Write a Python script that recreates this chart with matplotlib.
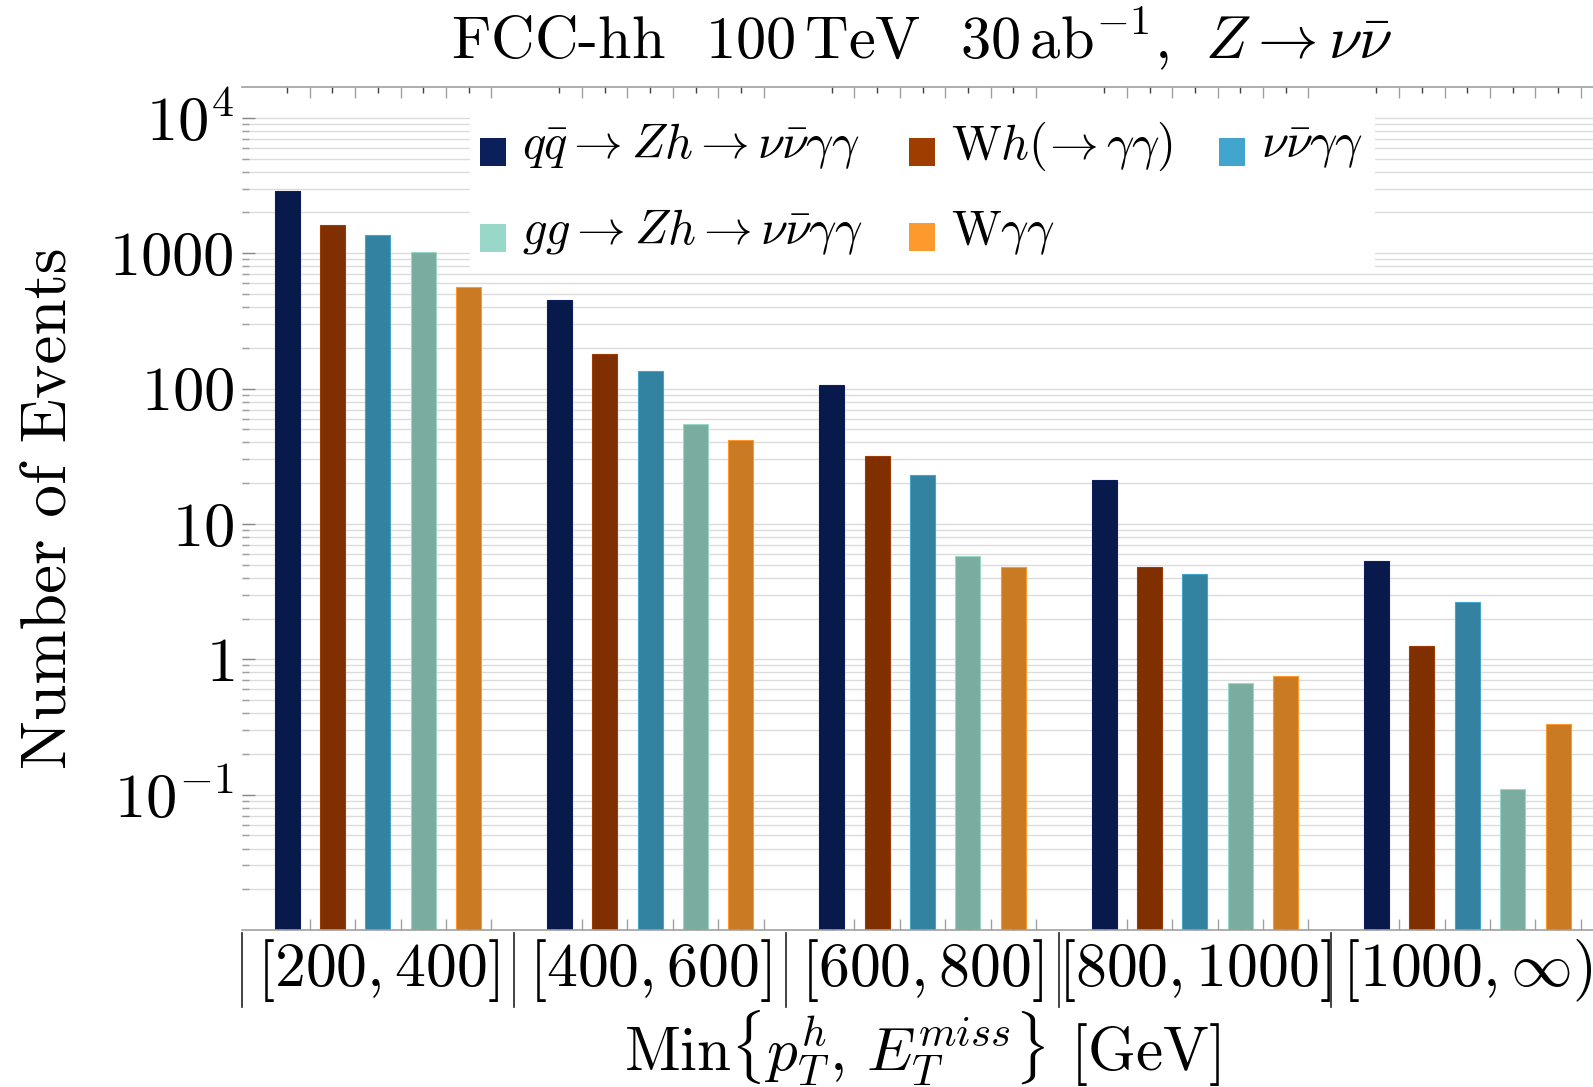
import matplotlib
matplotlib.use("Agg")
import matplotlib.pyplot as plt
import numpy as np
from matplotlib.patches import Patch, Rectangle
from matplotlib.legend_handler import HandlerPatch
from matplotlib.ticker import LogLocator, NullFormatter

plt.rcParams['font.family'] = 'cmr10'
plt.rcParams['mathtext.fontset'] = 'cm'
plt.rcParams['axes.unicode_minus'] = False

# pT bins (events for 30 ab^-1 at 100 TeV)
bins = [r'$[200,400]$', r'$[400,600]$', r'$[600,800]$',
        r'$[800,1000]$', r'$[1000,\infty)$']

labels = [r'$q\bar{q}\rightarrow Zh\rightarrow \nu\bar{\nu}\gamma\gamma$',
          r'$\mathrm{W}h(\!\rightarrow\gamma\gamma)$',
          r'$\nu\bar{\nu}\gamma\gamma$',
          r'$gg\rightarrow Zh\rightarrow \nu\bar{\nu}\gamma\gamma$',
          r'$\mathrm{W}\gamma\gamma$']

qq_zh = [2890, 450, 106, 21.0, 5.3]
wh_aa = [1610, 180, 31.5, 4.8, 1.26]
nunu_aa = [1370, 134, 22.8, 4.25, 2.65]
gg_zh = [1020, 55, 5.8, 0.67, 0.11]
w_aa = [560, 42, 4.8, 0.75, 0.33]

series = [qq_zh, wh_aa, nunu_aa, gg_zh, w_aa]
bar_colors = ['#081a4b', '#7f2f00', '#3382a2', '#7aada0', '#c97a22']
key_colors = ['#0a1f5c', '#9f3c00', '#42a5cd', '#99d8c8', '#fc9a2d']

n_groups = len(bins)
stride = len(series) + 1  # one empty slot between groups

fig = plt.figure(figsize=(15.93, 10.87), dpi=100)
ax = fig.add_axes([0.1517, 0.1444, 0.8483, 0.7753])

slots = []
for i, (vals, c, kc) in enumerate(zip(series, bar_colors, key_colors)):
    x = np.arange(n_groups) * stride + i
    slots.extend(x)
    ax.bar(x, vals, width=0.55, color=c, edgecolor=kc, linewidth=0.8, zorder=2)
slots = np.sort(np.array(slots))

ax.set_yscale('log')
ax.set_ylim(0.01, 16800)
ax.set_xlim(-1, 28.77)

ax.set_yticks([0.1, 1, 10, 100, 1000, 1e4],
              [r'$10^{-1}$', r'$1$', r'$10$', r'$100$', r'$1000$', r'$10^{4}$'])
ax.yaxis.set_minor_locator(LogLocator(base=10, subs=np.arange(2, 10), numticks=30))
ax.yaxis.set_minor_formatter(NullFormatter())
ax.grid(True, axis='y', which='both', color='#dcdcdc', linewidth=1.0)
ax.set_axisbelow(True)

ax.tick_params(axis='y', which='major', direction='in', left=True, right=False,
               length=9.5, width=1, color='#8a8a8a', labelsize=45, pad=5.5)
ax.tick_params(axis='y', which='minor', direction='in', left=True, right=False,
               length=5, width=1, color='#a0a0a0')

ax.set_xticks(slots + 0.5)
ax.set_xticks(slots, minor=True)
ax.tick_params(axis='x', which='major', direction='in', top=True, bottom=True,
               length=8, width=1, color='#a0a0a0', labelbottom=False)
ax.tick_params(axis='x', which='minor', direction='in', top=True, bottom=True,
               length=4, width=1, color='#404040')

for side in ['left', 'right']:
    ax.spines[side].set_visible(False)
for side in ['top', 'bottom']:
    ax.spines[side].set_color('#a0a0a0')
    ax.spines[side].set_linewidth(1.2)

# bin labels under each group, with separators
trans = ax.get_xaxis_transform()
centers = np.arange(n_groups) * stride + 2
for cx, lab in zip(centers, bins):
    ax.text(cx, -0.0665, lab, transform=trans, ha='center', va='baseline',
            fontsize=44.5)
for sx in np.arange(n_groups) * stride - 1:
    ax.plot([sx, sx], [-0.0036, -0.0914], transform=trans, color='#222222',
            lw=1.2, clip_on=False)

# legend on a white panel
ax.add_patch(Rectangle((0.1689, 0.782), 0.6698, 0.203, transform=ax.transAxes,
                       facecolor='white', edgecolor='none', zorder=1))


def low_swatch(legend, orig_handle, xdescent, ydescent, width, height, fontsize):
    return Rectangle((-xdescent, -ydescent - 0.22 * fontsize), width, height)


order = [0, 3, 1, 4, 2]
handles = [Patch(facecolor=key_colors[k], edgecolor='none') for k in order]
leg = ax.legend(handles, [labels[k] for k in order], ncol=3,
                loc='upper left', bbox_to_anchor=(0.1764, 0.962),
                frameon=False, fontsize=35, handlelength=0.53,
                handleheight=0.53, handletextpad=0.34, columnspacing=0.95,
                labelspacing=0.74, borderpad=0, borderaxespad=0,
                handler_map={Patch: HandlerPatch(patch_func=low_swatch)})
leg.set_zorder(5)

fig.text(0.5788, 0.9464,
         r'FCC-hh  100$\,$TeV  30$\,$ab$^{-1}$, $\;Z\rightarrow\nu\bar{\nu}$',
         ha='center', va='baseline', fontsize=43.5)
fig.text(0.032, 0.5327, 'Number of Events', rotation=90,
         ha='center', va='center', fontsize=47)
fig.text(0.5785, 0.0147, r'Min$\{p_T^h,\,E_T^{miss}\}$ [GeV]',
         ha='center', va='baseline', fontsize=44)

fig.savefig('out.png', dpi=100)
